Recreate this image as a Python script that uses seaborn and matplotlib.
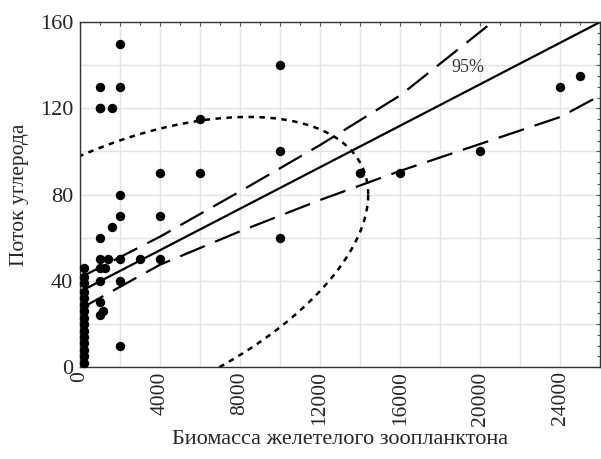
import numpy as np
import pandas as pd
import seaborn as sns
import matplotlib.pyplot as plt

# scatter data
biomass = [200, 200, 200, 200, 200, 200, 200, 200, 200, 200, 200, 200, 200, 200, 200,
           1000, 1000, 2000, 1000, 1600, 6000, 4000, 6000, 2000, 2000, 4000, 1600, 1000,
           1000, 1400, 2000, 3000, 4000, 1000, 1250, 1000, 2000, 1000, 1150, 1000, 2000,
           10000, 10000, 10000, 14000, 16000, 20000, 24000, 25000, 2000]
flux = [46, 42, 39, 35, 32, 29, 26, 23, 20, 17, 14, 11, 8, 5, 2,
        130, 120, 130, 120, 120, 115, 90, 90, 80, 70, 70, 65, 60,
        50, 50, 50, 50, 50, 46, 46, 40, 40, 30, 26, 24, 10,
        140, 100, 60, 90, 90, 100, 130, 135, 150]

# regression line and 95% band
fit_intercept = 35.0
fit_slope = 0.00481
band_x = [0, 4000, 8000, 12000, 16000, 20000, 24000, 26000]
band_upper = [41.5, 60.5, 81.5, 103, 126, 155.5, 185, 200]
band_lower = [27, 47.5, 63, 77.5, 91, 103.5, 116, 126]

# 95% data ellipse (centre, spreads in x and y, correlation)
ell_cx, ell_cy = 2400, 44
ell_sx, ell_sy = 12000, 72
ell_r = 0.5

df = pd.DataFrame({"x": biomass, "y": flux})

sns.set_style("white")
plt.rcParams["font.family"] = ["Liberation Serif", "DejaVu Serif"]

fig, ax = plt.subplots(figsize=(6.01, 4.59), dpi=100)
fig.subplots_adjust(left=0.133, right=0.999, top=0.952, bottom=0.2)

ax.set_xlim(0, 26000)
ax.set_ylim(0, 160)
ax.set_xticks(np.arange(0, 26001, 2000))
ax.set_xticks(np.arange(0, 26001, 1000), minor=True)
ax.set_yticks(np.arange(0, 161, 20))
ax.set_yticks(np.arange(0, 161, 5), minor=True)
ax.grid(True, which="major", color="#e4e4e4", linewidth=1.0)
ax.set_axisbelow(True)

xlab = [str(v) if v % 4000 == 0 else "" for v in range(0, 26001, 2000)]
ax.set_xticklabels(xlab, rotation=90, fontsize=15.5)
ylab = [str(v) if v % 40 == 0 else "" for v in range(0, 161, 20)]
ax.set_yticklabels(ylab, fontsize=16)
ax.tick_params(which="both", direction="in", top=True, right=True, length=3,
               width=0.8, color="#555555")
ax.tick_params(axis="x", pad=3)
ax.tick_params(axis="y", pad=5)
ax.tick_params(which="minor", length=2)
for s in ax.spines.values():
    s.set_color("#333333")
    s.set_linewidth(1.0)

# ellipse
t = np.linspace(0, 2 * np.pi, 400)
ex = ell_cx + ell_sx * np.cos(t)
ey = ell_cy + ell_sy * (ell_r * np.cos(t) + np.sqrt(1 - ell_r ** 2) * np.sin(t))
ax.plot(ex, ey, color="black", linewidth=1.8, dashes=(2.2, 2.2))

# regression line and band
xs = np.array([0, 26000])
sns.lineplot(x=xs, y=fit_intercept + fit_slope * xs, color="black", linewidth=1.6, ax=ax)
ax.plot(band_x, band_upper, color="black", linewidth=1.6, dashes=(12, 5))
ax.plot(band_x, band_lower, color="black", linewidth=1.6, dashes=(12, 5))

sns.scatterplot(data=df, x="x", y="y", color="black", s=46, edgecolor="black",
                linewidth=0, ax=ax, zorder=5, clip_on=False)

ax.text(19400, 139, "95%", fontsize=13, color="#333333", ha="center", va="center")

ax.set_xlabel("Биомасса желетелого зоопланктона", fontsize=16, labelpad=3)
ax.set_ylabel("Поток углерода", fontsize=15.5, labelpad=8)

fig.savefig("out.png", dpi=100)
